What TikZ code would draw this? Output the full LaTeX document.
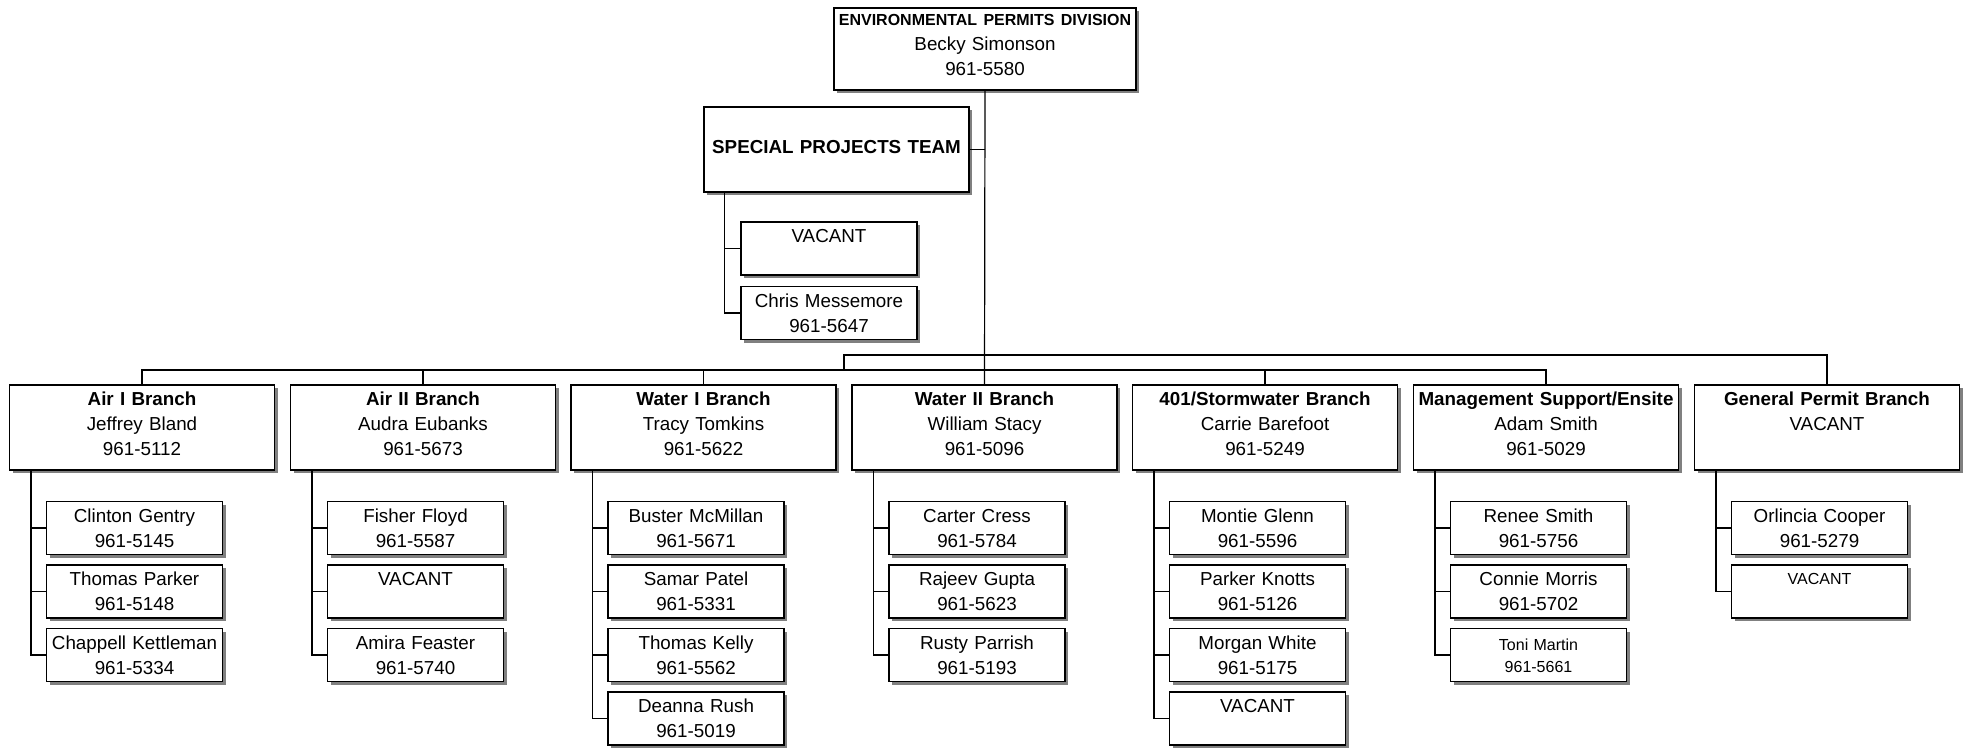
\documentclass[tikz,border=0pt]{standalone}
\usepackage{fontspec}
\setmainfont{Liberation Sans}
\usetikzlibrary{shadows}

\tikzset{
  box/.style={draw, fill=white, line width=0.6pt, inner sep=0pt, align=center,
    drop shadow={shadow xshift=1.5pt, shadow yshift=-1.5pt, fill=black!50, opacity=1},
    font=\fontsize{9.4}{12.5}\selectfont},
  branch/.style={box, text width=132.5pt, text height=10.4pt, text depth=32.1pt},
  staff/.style={box, text width=88pt, text height=10.4pt, text depth=16.1pt},
  smalltext/.style={font=\fontsize{8}{11}\selectfont, text height=10.9pt, text depth=15.6pt},
  link/.style={line width=0.6pt},
}

\begin{document}
\begin{tikzpicture}[x=0.5pt, y=-0.5pt]
    \useasboundingbox (0,0) rectangle (1969,749);

    % division and special projects
    \node[box, text width=151pt, text height=8.9pt, text depth=32.1pt] (div) at (985,49)
        {{\fontsize{8}{9}\selectfont\bfseries ENVIRONMENTAL PERMITS DIVISION}\\Becky Simonson\\961-5580};
    \node[branch, text height=23.4pt, text depth=19.1pt] (spt) at (836.5,149.5) {\textbf{SPECIAL PROJECTS TEAM}};
    \node[staff] (sptA) at (829,248.5) {VACANT};
    \node[staff] (sptB) at (829,313) {Chris Messemore\\961-5647};

    % branches
    \node[branch] (air1) at (142,427.5) {\textbf{Air I Branch}\\Jeffrey Bland\\961-5112};
    \node[branch] (air2) at (423,427.5) {\textbf{Air II Branch}\\Audra Eubanks\\961-5673};
    \node[branch] (water1) at (703.5,427.5) {\textbf{Water I Branch}\\Tracy Tomkins\\961-5622};
    \node[branch] (water2) at (984.5,427.5) {\textbf{Water II Branch}\\William Stacy\\961-5096};
    \node[branch] (storm) at (1265,427.5) {\textbf{401/Stormwater Branch}\\Carrie Barefoot\\961-5249};
    \node[branch] (mgmt) at (1546,427.5) {\textbf{Management Support/Ensite}\\Adam Smith\\961-5029};
    \node[branch] (genp) at (1827,427.5) {\textbf{General Permit Branch}\\VACANT};

    % staff
    \node[staff] (air1a) at (134.5,528) {Clinton Gentry\\961-5145};
    \node[staff] (air1b) at (134.5,591.5) {Thomas Parker\\961-5148};
    \node[staff] (air1c) at (134.5,655) {Chappell Kettleman\\961-5334};

    \node[staff] (air2a) at (415.5,528) {Fisher Floyd\\961-5587};
    \node[staff] (air2b) at (415.5,591.5) {VACANT};
    \node[staff] (air2c) at (415.5,655) {Amira Feaster\\961-5740};

    \node[staff] (water1a) at (696,528) {Buster McMillan\\961-5671};
    \node[staff] (water1b) at (696,591.5) {Samar Patel\\961-5331};
    \node[staff] (water1c) at (696,655) {Thomas Kelly\\961-5562};
    \node[staff] (water1d) at (696,718.5) {Deanna Rush\\961-5019};

    \node[staff] (water2a) at (977,528) {Carter Cress\\961-5784};
    \node[staff] (water2b) at (977,591.5) {Rajeev Gupta\\961-5623};
    \node[staff] (water2c) at (977,655) {Rusty Parrish\\961-5193};

    \node[staff] (storma) at (1257.5,528) {Montie Glenn\\961-5596};
    \node[staff] (stormb) at (1257.5,591.5) {Parker Knotts\\961-5126};
    \node[staff] (stormc) at (1257.5,655) {Morgan White\\961-5175};
    \node[staff] (stormd) at (1257.5,718.5) {VACANT};

    \node[staff] (mgmta) at (1538.5,528) {Renee Smith\\961-5756};
    \node[staff] (mgmtb) at (1538.5,591.5) {Connie Morris\\961-5702};
    \node[staff, smalltext] (mgmtc) at (1538.5,655) {Toni Martin\\961-5661};

    \node[staff] (genpa) at (1819.5,528) {Orlincia Cooper\\961-5279};
    \node[staff, smalltext, text height=9.9pt, text depth=16.6pt] (genpb) at (1819.5,591.5) {VACANT};

    % tree lines
    \coordinate (busup) at (844,355);
    \coordinate (buslow) at (844,370);
    \draw[link] (div.south) -- (water2.north);
    \draw[link] (spt.east) -- (spt.east -| div.south);
    \draw[link] (buslow) -- (busup) -| (genp.north);
    \draw[link] (air1.north) |- (mgmt.north |- buslow) -- (mgmt.north);
    \draw[link] (air2.north) -- (air2.north |- buslow);
    \draw[link] (water1.north) -- (water1.north |- buslow);
    \draw[link] (storm.north) -- (storm.north |- buslow);

    \draw[link] ([xshift=10.5pt]spt.south west) |- (sptA.west)
                ([xshift=10.5pt]spt.south west) |- (sptB.west);
    \draw[link] ([xshift=11pt]air1.south west) |- (air1a.west)
                ([xshift=11pt]air1.south west) |- (air1b.west)
                ([xshift=11pt]air1.south west) |- (air1c.west);
    \draw[link] ([xshift=11pt]air2.south west) |- (air2a.west)
                ([xshift=11pt]air2.south west) |- (air2b.west)
                ([xshift=11pt]air2.south west) |- (air2c.west);
    \draw[link] ([xshift=11pt]water1.south west) |- (water1a.west)
                ([xshift=11pt]water1.south west) |- (water1b.west)
                ([xshift=11pt]water1.south west) |- (water1c.west)
                ([xshift=11pt]water1.south west) |- (water1d.west);
    \draw[link] ([xshift=11pt]water2.south west) |- (water2a.west)
                ([xshift=11pt]water2.south west) |- (water2b.west)
                ([xshift=11pt]water2.south west) |- (water2c.west);
    \draw[link] ([xshift=11pt]storm.south west) |- (storma.west)
                ([xshift=11pt]storm.south west) |- (stormb.west)
                ([xshift=11pt]storm.south west) |- (stormc.west)
                ([xshift=11pt]storm.south west) |- (stormd.west);
    \draw[link] ([xshift=11pt]mgmt.south west) |- (mgmta.west)
                ([xshift=11pt]mgmt.south west) |- (mgmtb.west)
                ([xshift=11pt]mgmt.south west) |- (mgmtc.west);
    \draw[link] ([xshift=11pt]genp.south west) |- (genpa.west)
                ([xshift=11pt]genp.south west) |- (genpb.west);
\end{tikzpicture}
\end{document}
